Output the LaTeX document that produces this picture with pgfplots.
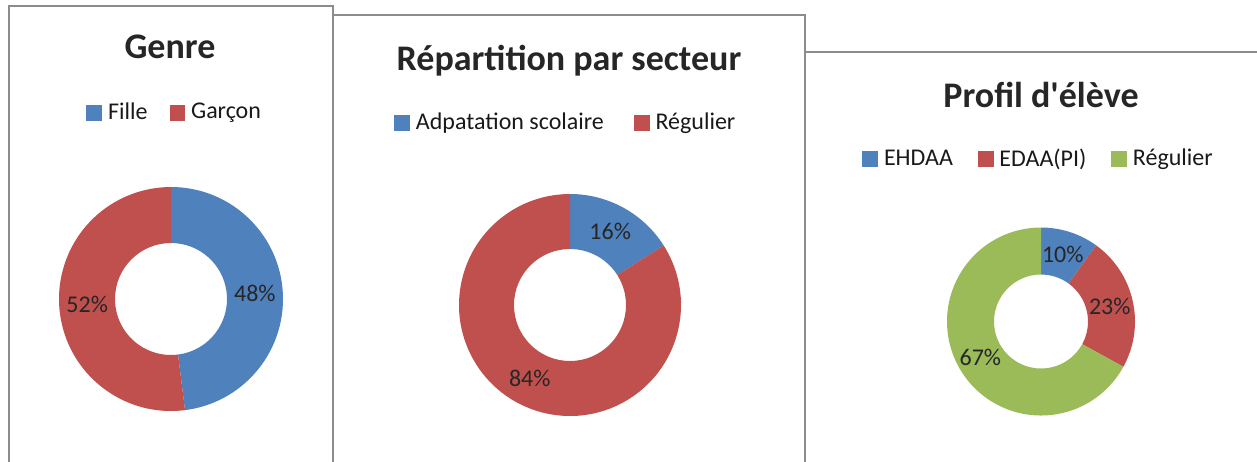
\documentclass[border=0pt]{standalone}
\usepackage{fontspec}
\setmainfont{Carlito}
\usepackage{pgfplots}
\usepackage{pgfplotstable}
\pgfplotsset{compat=1.18}

\definecolor{cblue}{HTML}{4F81BD}
\definecolor{cred}{HTML}{C0504D}
\definecolor{cgreen}{HTML}{9BBB59}
\definecolor{frame}{HTML}{8C8C8C}
\newcommand\titlefont{\fontsize{18}{21}\selectfont\bfseries}
\newcommand\labelfont{\fontsize{12}{14}\selectfont}

% values in percent, drawn clockwise from 12 o'clock
\pgfplotstableread{
value color
48 cblue
52 cred
}\tgenre
\pgfplotstableread{
value color
16 cblue
84 cred
}\tsecteur
\pgfplotstableread{
value color
10 cblue
23 cred
67 cgreen
}\tprofil

% #1 table, #2 cx, #3 cy (axis units = px), #4 outer radius, #5 inner radius (px)
\newcommand\donut[5]{%
  \def\scum{0}%
  \pgfplotstablegetrowsof{#1}\pgfmathtruncatemacro\snlast{\pgfplotsretval-1}%
  \pgfmathsetmacro\sro{#4*0.5}\pgfmathsetmacro\sri{#5*0.5}\pgfmathsetmacro\srmid{(#4+#5)*0.25}%
  \pgfplotsforeachungrouped \k in {0,...,\snlast}{%
    \pgfplotstablegetelem{\k}{value}\of{#1}\let\sv\pgfplotsretval
    \pgfplotstablegetelem{\k}{color}\of{#1}\let\scol\pgfplotsretval
    \pgfmathsetmacro\sa{90-3.6*\scum}%
    \pgfmathsetmacro\sb{90-3.6*(\scum+\sv)}%
    \pgfmathsetmacro\sm{(\sa+\sb)/2}%
    \edef\temp{\noexpand\fill[\scol] ([shift={(\sa:\sro pt)}]axis cs:#2,#3) arc[start angle=\sa, end angle=\sb, radius=\sro pt] -- ([shift={(\sb:\sri pt)}]axis cs:#2,#3) arc[start angle=\sb, end angle=\sa, radius=\sri pt] -- cycle;
      \noexpand\node[font=\noexpand\labelfont, text=black!85] at ([shift={(\sm:\srmid pt)}]axis cs:#2,#3) {\sv\%};}%
    \temp
    \pgfmathsetmacro\scum{\scum+\sv}%
  }%
}

\pgfplotsset{
  donut/.style={
    x=0.5pt, y=0.5pt, y dir=reverse, enlargelimits=false, scale only axis,
    axis line style={draw=frame, line width=1pt},
    xtick=\empty, ytick=\empty, clip=false,
    anchor=north west,
    legend columns=-1,
    legend style={draw=none, fill=none, inner sep=0pt, anchor=west,
      font=\fontsize{12}{14}\selectfont, text=black!90,
      nodes={inner sep=0pt},
      /tikz/every odd column/.append style={column sep=3pt}},
    legend image code/.code={\fill[##1] (0pt,-3.7pt) rectangle (7.4pt,3.7pt);},
  }
}

\begin{document}
\begin{tikzpicture}
% Panel 1
\begin{axis}[donut, xmin=9, xmax=333, ymin=6, ymax=480, at={(4.5pt,-3pt)},
  legend style={at={(0.2377,0.7753)}, /tikz/every even column/.append style={column sep=11pt}}]
  \addlegendimage{cblue}\addlegendentry{Fille}
  \addlegendimage{cred}\addlegendentry{Garçon}
  \node[font=\titlefont, text=black!85, anchor=base] at (axis cs:170,58) {Genre};
  \donut{\tgenre}{171}{299}{112}{56}
\end{axis}
% Panel 2
\begin{axis}[donut, xmin=333, xmax=805, ymin=15, ymax=480, at={(166.5pt,-7.5pt)},
  legend style={at={(0.1292,0.7688)}, /tikz/every even column/.append style={column sep=15pt}}]
  \addlegendimage{cblue}\addlegendentry{Adpatation scolaire}
  \addlegendimage{cred}\addlegendentry{Régulier}
  \node[font=\titlefont, text=black!85, anchor=base] at (axis cs:569,70) {Répartition par secteur};
  \donut{\tsecteur}{570}{305}{111}{56}
\end{axis}
% Panel 3
\begin{axis}[donut, xmin=805, xmax=1270, ymin=52, ymax=480, at={(402.5pt,-26pt)},
  legend style={at={(0.1226,0.75)}, /tikz/every even column/.append style={column sep=12.5pt}}]
  \addlegendimage{cblue}\addlegendentry{EHDAA}
  \addlegendimage{cred}\addlegendentry{EDAA(PI)}
  \addlegendimage{cgreen}\addlegendentry{Régulier}
  \node[font=\titlefont, text=black!85, anchor=base] at (axis cs:1041,107) {Profil d\textquotesingle élève};
  \donut{\tprofil}{1041}{321.5}{94}{47}
\end{axis}
\pgfresetboundingbox
\useasboundingbox (0,0) rectangle (628.5pt,-230.5pt);
\end{tikzpicture}
\end{document}
